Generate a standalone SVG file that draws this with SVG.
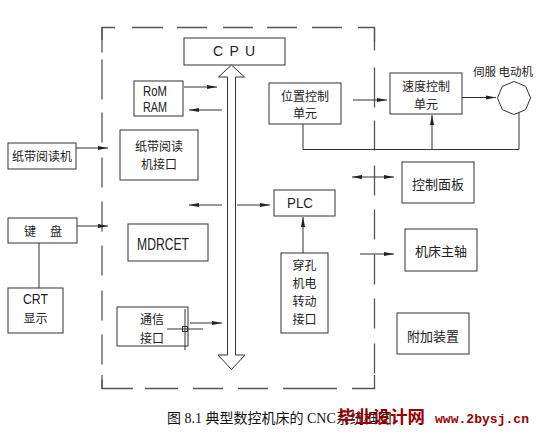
<svg xmlns="http://www.w3.org/2000/svg" width="543" height="435" viewBox="0 0 543 435">
<style>
.bx{fill:none;stroke:#333;stroke-width:1}
.ln{fill:none;stroke:#333;stroke-width:1}
.ar{fill:none;stroke:#333;stroke-width:1;marker-end:url(#ah)}
.dash{fill:none;stroke:#555;stroke-width:1.3}
.cj{font-family:"Noto Sans CJK SC","Noto Sans",sans-serif;font-size:12px;fill:#222;text-anchor:middle}
.lt{font-family:"Liberation Sans","DejaVu Sans",sans-serif;font-size:14px;fill:#222;text-anchor:middle}
</style>
<defs>
<marker id="ah" viewBox="0 0 10 6" refX="10" refY="3" markerWidth="10" markerHeight="6" markerUnits="userSpaceOnUse" orient="auto-start-reverse">
<path d="M0,0.9 L10,3 L0,5.1 Z" fill="#222"/>
</marker>
</defs>
<rect width="543" height="435" fill="#fff"/>

<g id="border">
<path class="dash" d="M102,40 V27.5 H115 M132,27.5 H163 M177,27.5 H207 M223,27.5 H253 M267,27.5 H297 M312,27.5 H342 M358,27.5 H374.5 V42"/>
<path class="dash" d="M102,27.5 V388.5" stroke-dasharray="25 7 40 13 30 15 30 14 30 14 30 15 30 14 30 15 30 14 40 12"/>
<path class="dash" d="M374.5,27.5 V388.5" stroke-dasharray="23 17 40 13 30 15 30 14 30 15 30 14 30 15 30 14 30 15 40 12"/>
<path class="dash" d="M102,375 V388.5 H133 M145,388.5 H178 M193,388.5 H223 M238,388.5 H268 M283,388.5 H337 M352,388.5 H374.5 V375"/>
</g>

<g id="cpu">
<rect class="bx" x="184" y="38" width="101" height="27"/>
<text class="lt" x="234" y="56" textLength="42" lengthAdjust="spacing">C P U</text>
</g>

<g id="bus">
<polygon points="231.5,65 244.5,77 235.5,77 235.5,355 245,355 231.5,369.5 218,355 227.5,355 227.5,77 218.5,77" fill="#fff" stroke="#333" stroke-width="1"/>
</g>

<g id="rom-ram">
<rect class="bx" x="134" y="81" width="49" height="35"/>
<text class="lt" x="155" y="96" textLength="24" lengthAdjust="spacingAndGlyphs">RoM</text>
<text class="lt" x="155" y="112" textLength="24" lengthAdjust="spacingAndGlyphs">RAM</text>
</g>

<g id="tape-reader">
<rect class="bx" x="8" y="143" width="68" height="26"/>
<text class="cj" x="42" y="161">纸带阅读机</text>
</g>

<g id="tape-interface">
<rect class="bx" x="120" y="130" width="78" height="50"/>
<text class="cj" x="159" y="151">纸带阅读</text>
<text class="cj" x="159" y="169">机接口</text>
</g>

<g id="keyboard">
<rect class="bx" x="8" y="218" width="69" height="25"/>
<text class="cj" x="30" y="236">键</text>
<text class="cj" x="56" y="236">盘</text>
</g>

<g id="crt">
<rect class="bx" x="8" y="288" width="55" height="45"/>
<text class="lt" x="35.5" y="304" textLength="25" lengthAdjust="spacingAndGlyphs">CRT</text>
<text class="cj" x="35.5" y="323">显示</text>
</g>

<g id="mdrcet">
<rect class="bx" x="128" y="224" width="80" height="37"/>
<text class="lt" x="163" y="250" style="font-size:16px" textLength="52" lengthAdjust="spacingAndGlyphs">MDRCET</text>
</g>

<g id="comm-interface">
<rect class="bx" x="117" y="307" width="71" height="39"/>
<text class="cj" x="152" y="324">通信</text>
<text class="cj" x="152" y="343">接口</text>
<path class="ln" d="M185,309 V350 M167,329 H203"/>
<rect x="182.5" y="326.5" width="5" height="5" fill="none" stroke="#333" stroke-width="1"/>
</g>

<g id="plc">
<rect class="bx" x="274" y="190" width="61" height="26"/>
<text class="lt" x="300" y="208" textLength="26" lengthAdjust="spacingAndGlyphs">PLC</text>
</g>

<g id="position-control">
<rect class="bx" x="269" y="83" width="72" height="41"/>
<text class="cj" x="305" y="101">位置控制</text>
<text class="cj" x="305" y="118">单元</text>
</g>

<g id="speed-control">
<rect class="bx" x="390" y="73" width="72" height="41"/>
<text class="cj" x="426" y="91">速度控制</text>
<text class="cj" x="426" y="109">单元</text>
</g>

<g id="servo-motor">
<polygon points="530.5,98 525.7,109.7 514,114.5 502.3,109.7 497.5,98 502.3,86.3 514,81.5 525.7,86.3" fill="none" stroke="#333" stroke-width="1"/>
<text class="cj" x="503" y="76" style="font-size:11.5px">伺服 电动机</text>
</g>

<g id="control-panel">
<rect class="bx" x="402" y="162" width="72" height="41"/>
<text class="cj" x="438" y="189" style="font-size:13px">控制面板</text>
</g>

<g id="spindle">
<rect class="bx" x="405" y="229" width="72" height="42"/>
<text class="cj" x="441" y="256" style="font-size:13px">机床主轴</text>
</g>

<g id="auxiliary">
<rect class="bx" x="397" y="313" width="72" height="41"/>
<text class="cj" x="433" y="341" style="font-size:13px">附加装置</text>
</g>

<g id="punch-interface">
<rect class="bx" x="281" y="253" width="47" height="80"/>
<text class="cj" x="304.5" y="270">穿孔</text>
<text class="cj" x="304.5" y="288">机电</text>
<text class="cj" x="304.5" y="306">转动</text>
<text class="cj" x="304.5" y="324">接口</text>
</g>

<g id="connectors">
<line class="ar" x1="184" y1="87" x2="217" y2="87"/>
<line class="ar" x1="222" y1="110" x2="189" y2="110"/>
<line class="ar" x1="76" y1="148" x2="108" y2="148"/>
<line class="ar" x1="222" y1="205" x2="189" y2="205"/>
<line class="ar" x1="237" y1="205" x2="270" y2="205"/>
<line class="ar" x1="77" y1="226" x2="108" y2="226"/>
<line class="ln" x1="39" y1="243" x2="39" y2="288"/>
<line class="ar" x1="190" y1="323" x2="222" y2="323"/>
<line class="ar" x1="303" y1="253" x2="303" y2="217"/>
<line class="ar" x1="353" y1="100" x2="387" y2="100"/>
<line class="ar" x1="462" y1="97.5" x2="496" y2="97.5"/>
<polyline class="ln" points="303,124 303,149.5 519,149.5 519,112.5"/>
<line class="ar" x1="432" y1="149.5" x2="432" y2="115"/>
<line class="ar" x1="372" y1="177" x2="352" y2="177"/>
<line class="ar" x1="372" y1="177" x2="394" y2="177"/>
<line class="ar" x1="360" y1="254" x2="394" y2="254"/>
</g>

<g id="caption">
<text x="167" y="423" font-family="'Liberation Serif','Noto Sans CJK SC',serif" font-size="14" fill="#111">图 8.1 典型数控机床的 CNC系统框图</text>
<text x="338" y="423" font-family="'Noto Sans CJK SC',sans-serif" font-size="17" font-weight="bold" fill="#9a0000" textLength="87" lengthAdjust="spacingAndGlyphs">毕业设计网</text>
<text x="435" y="423" font-family="'Liberation Mono',monospace" font-size="13" font-weight="bold" fill="#9a0000" textLength="94" lengthAdjust="spacingAndGlyphs">www.2bysj.cn</text>
</g>
</svg>
